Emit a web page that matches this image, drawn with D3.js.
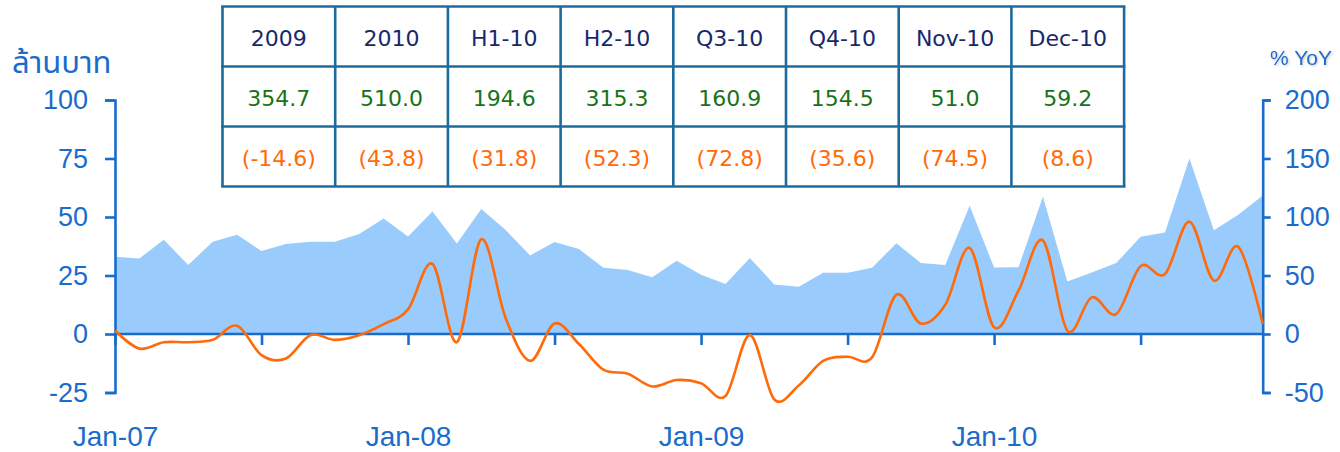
<!DOCTYPE html>
<html>
<head>
<meta charset="utf-8">
<script src="https://cdn.jsdelivr.net/npm/d3@7"></script>
<style>
  body { margin: 0; background: #fff; }
  svg { display: block; }
</style>
</head>
<body>
<div id="chart"></div>
<script>
'use strict'

// monthly categories Jan-07 .. Dec-10
var months = [
  'Jan-07', 'Feb-07', 'Mar-07', 'Apr-07', 'May-07', 'Jun-07', 'Jul-07', 'Aug-07', 'Sep-07', 'Oct-07', 'Nov-07', 'Dec-07',
  'Jan-08', 'Feb-08', 'Mar-08', 'Apr-08', 'May-08', 'Jun-08', 'Jul-08', 'Aug-08', 'Sep-08', 'Oct-08', 'Nov-08', 'Dec-08',
  'Jan-09', 'Feb-09', 'Mar-09', 'Apr-09', 'May-09', 'Jun-09', 'Jul-09', 'Aug-09', 'Sep-09', 'Oct-09', 'Nov-09', 'Dec-09',
  'Jan-10', 'Feb-10', 'Mar-10', 'Apr-10', 'May-10', 'Jun-10', 'Jul-10', 'Aug-10', 'Sep-10', 'Oct-10', 'Nov-10', 'Dec-10'
];

// value, million baht (area, left axis)
var volume = [
  33.0, 32.3, 40.3, 29.5, 39.4, 42.4, 35.5, 38.5, 39.4, 39.4, 42.7, 49.4,
  41.7, 52.4, 38.7, 53.4, 44.4, 33.5, 39.3, 36.3, 28.3, 27.3, 24.2, 31.3,
  25.3, 21.4, 32.5, 21.2, 20.2, 26.2, 26.2, 28.3, 38.8, 30.3, 29.5, 54.8,
  28.4, 28.5, 58.7, 22.4, 26.3, 30.3, 41.6, 43.4, 75.0, 44.3, 51.0, 59.2
];

// growth % YoY (line, right axis)
var growth = [
  3, -12.5, -7, -7, -5, 7, -18, -21, -1, -5, -1, 8.5,
  21, 60, -7, 81, 13.5, -23, 9, -8.6, -30.5, -34, -44.8, -39.3,
  -42, -53, -1, -56, -44, -23, -19.4, -20, 33.6, 9, 25, 73.5,
  5.7, 37, 80, 2.8, 31.3, 17, 58, 51.3, 96, 45.6, 74.5, 8.6
];

var leftTicks = [-25, 0, 25, 50, 75, 100];
var rightTicks = [-50, 0, 50, 100, 150, 200];

// summary table
var tableHeads = ['2009', '2010', 'H1-10', 'H2-10', 'Q3-10', 'Q4-10', 'Nov-10', 'Dec-10'];
var tableValues = ['354.7', '510.0', '194.6', '315.3', '160.9', '154.5', '51.0', '59.2'];
var tableGrowth = ['(-14.6)', '(43.8)', '(31.8)', '(52.3)', '(72.8)', '(35.6)', '(74.5)', '(8.6)'];

var WIDTH = 1340, HEIGHT = 452;
var AXIS_COLOR = '#1a6ccc';
var AREA_COLOR = '#99ccfc';
var LINE_COLOR = '#ff6a0a';
var AXIS_FONT = '"Liberation Sans", Arial, sans-serif';
var TABLE_FONT = '"DejaVu Sans", Verdana, sans-serif';

var svg = d3.select('#chart').append('svg')
  .attr('width', WIDTH).attr('height', HEIGHT);

var x = d3.scalePoint().domain(months).range([115, 1262.7]);
var yL = d3.scaleLinear().domain([-25, 100]).range([392.5, 100]);
var yR = d3.scaleLinear().domain([-50, 200]).range([392.5, 100]);

// area
var area = d3.area()
  .x(function (d, i) { return x(months[i]); })
  .y0(yL(0))
  .y1(function (d) { return yL(d); });

svg.append('path')
  .datum(volume)
  .attr('d', area)
  .attr('fill', AREA_COLOR);

// bottom axis (ticks every 6 months, labels only in January)
var bottomTicks = months.filter(function (m, i) { return i % 6 === 0; });
var gx = svg.append('g')
  .attr('transform', 'translate(0,' + yL(0) + ')')
  .call(d3.axisBottom(x)
    .tickValues(bottomTicks)
    .tickSize(11)
    .tickSizeOuter(0)
    .tickPadding(81)
    .tickFormat(function (d) { return d.indexOf('Jan') === 0 ? d : ''; }));

// plain hyphen minus like the original
var plain = function (d) { return String(d); };

// left axis
var gl = svg.append('g')
  .attr('transform', 'translate(115,0)')
  .call(d3.axisLeft(yL).tickValues(leftTicks).tickFormat(plain)
    .tickSize(10).tickSizeOuter(10).tickPadding(17));

// right axis
var gr = svg.append('g')
  .attr('transform', 'translate(1262.7,0)')
  .call(d3.axisRight(yR).tickValues(rightTicks).tickFormat(plain)
    .tickSize(8).tickSizeOuter(8).tickPadding(14));

[gx, gl, gr].forEach(function (g) {
  g.selectAll('path, line').attr('stroke', AXIS_COLOR).attr('stroke-width', 2.6);
  g.selectAll('text')
    .attr('fill', AXIS_COLOR)
    .attr('font-family', AXIS_FONT)
    .attr('font-size', '27px');
});
gx.selectAll('text').attr('font-size', '28px');
gx.select('.domain').remove();
svg.append('line')
  .attr('x1', 115).attr('x2', 1262.7)
  .attr('y1', yL(0)).attr('y2', yL(0))
  .attr('stroke', AXIS_COLOR).attr('stroke-width', 2.6);

// growth line
var line = d3.line()
  .x(function (d, i) { return x(months[i]); })
  .y(function (d) { return yR(d); })
  .curve(d3.curveCardinal.tension(0));

svg.append('path')
  .datum(growth)
  .attr('d', line)
  .attr('fill', 'none')
  .attr('stroke', LINE_COLOR)
  .attr('stroke-width', 2.6)
  .attr('stroke-linejoin', 'round');

// axis titles
svg.append('text')
  .attr('x', 12).attr('y', 73)
  .attr('fill', AXIS_COLOR)
  .attr('font-family', '"Noto Sans Thai", "Noto Sans", "DejaVu Sans", sans-serif')
  .attr('font-size', '31px')
  .text('ล้านบาท');

var defs = svg.append('defs');
var shadow = defs.append('filter').attr('id', 'shadow');
shadow.append('feDropShadow')
  .attr('dx', 1).attr('dy', 1).attr('stdDeviation', 0.8)
  .attr('flood-color', '#999').attr('flood-opacity', 0.6);

svg.append('text')
  .attr('x', 1270).attr('y', 65)
  .attr('fill', AXIS_COLOR)
  .attr('font-family', AXIS_FONT)
  .attr('font-size', '21px')
  .attr('filter', 'url(#shadow)')
  .text('% YoY');

// table
var TABLE_X = 222.5, TABLE_Y = 6.5, COL_W = 112.7, ROW_H = 60;
var rows = [
  { cells: tableHeads, color: '#16296b' },
  { cells: tableValues, color: '#187318' },
  { cells: tableGrowth, color: '#ff6a0a' }
];

var table = svg.append('g');
table.append('rect')
  .attr('x', TABLE_X).attr('y', TABLE_Y)
  .attr('width', COL_W * tableHeads.length).attr('height', ROW_H * rows.length)
  .attr('fill', '#fff');

rows.forEach(function (row, r) {
  table.selectAll(null)
    .data(row.cells)
    .enter()
    .append('text')
    .attr('x', function (d, i) { return TABLE_X + i * COL_W + COL_W / 2; })
    .attr('y', TABLE_Y + r * ROW_H + ROW_H / 2 + 9)
    .attr('text-anchor', 'middle')
    .attr('font-family', TABLE_FONT)
    .attr('font-size', '22px')
    .attr('fill', row.color)
    .text(function (d) { return d; });
});

var TABLE_BORDER = '#1d6b9c';
d3.range(tableHeads.length + 1).forEach(function (i) {
  table.append('line')
    .attr('x1', TABLE_X + i * COL_W).attr('x2', TABLE_X + i * COL_W)
    .attr('y1', TABLE_Y).attr('y2', TABLE_Y + ROW_H * rows.length)
    .attr('stroke', TABLE_BORDER).attr('stroke-width', 2.6);
});
d3.range(rows.length + 1).forEach(function (r) {
  table.append('line')
    .attr('x1', TABLE_X - 1.3).attr('x2', TABLE_X + COL_W * tableHeads.length + 1.3)
    .attr('y1', TABLE_Y + r * ROW_H).attr('y2', TABLE_Y + r * ROW_H)
    .attr('stroke', TABLE_BORDER).attr('stroke-width', 2.6);
});
</script>
</body>
</html>
